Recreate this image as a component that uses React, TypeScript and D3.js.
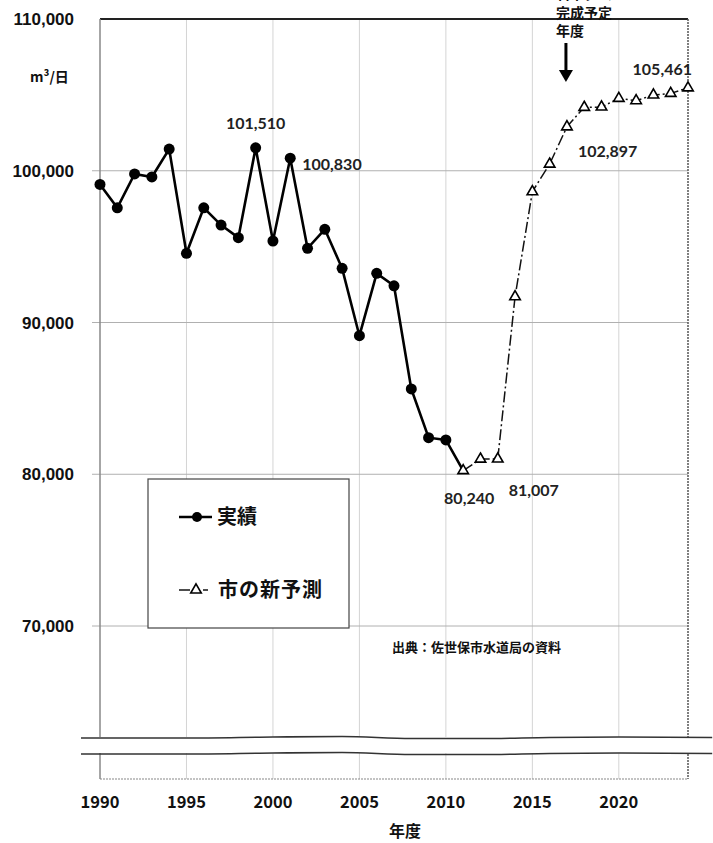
import * as d3 from "d3";

// 実績 (actual daily water supply, m3/day)
const actualYears = [1990, 1991, 1992, 1993, 1994, 1995, 1996, 1997, 1998, 1999, 2000,
  2001, 2002, 2003, 2004, 2005, 2006, 2007, 2008, 2009, 2010, 2011];
const actualValues = [99100, 97560, 99790, 99590, 101430, 94560, 97560, 96420, 95590, 101510, 95370,
  100830, 94890, 96140, 93570, 89130, 93240, 92420, 85620, 82410, 82260, 80240];

// 市の新予測 (city's new forecast)
const forecastYears = [2011, 2012, 2013, 2014, 2015, 2016, 2017, 2018, 2019, 2020, 2021, 2022, 2023, 2024];
const forecastValues = [80240, 81000, 81007, 91700, 98620, 100440, 102897, 104180, 104200, 104770, 104620, 104990, 105100, 105461];

const yTicks = [70000, 80000, 90000, 100000, 110000];
const xTicks = [1990, 1995, 2000, 2005, 2010, 2015, 2020];

const callouts = [
  { year: 1999, value: 101510, text: "101,510", dx: 0, dy: -24, anchor: "middle" },
  { year: 2001, value: 100830, text: "100,830", dx: 12, dy: 6, anchor: "start" },
  { year: 2011, value: 80240, text: "80,240", dx: 6, dy: 28, anchor: "middle" },
  { year: 2013, value: 81007, text: "81,007", dx: 36, dy: 31, anchor: "middle" },
  { year: 2017, value: 102897, text: "102,897", dx: 11, dy: 25, anchor: "start" },
  { year: 2024, value: 105461, text: "105,461", dx: 4, dy: -18, anchor: "end" },
];

const annotationLines = ["石木ダム", "完成予定", "年度"];

const W = 713, H = 843;
const left = 100, right = 688, top = 19, bottom = 779;
const breakTop = 737, breakBottom = 753;

export default function App() {
  const x = d3.scaleLinear().domain([1990, 2024]).range([left, right]);
  const y = d3.scaleLinear().domain([70000, 110000]).range([626, top]);

  const actual = actualYears.map((yr, i) => ({ yr, v: actualValues[i] }));
  const forecast = forecastYears.map((yr, i) => ({ yr, v: forecastValues[i] }));
  const line = d3.line<any>().x(d => x(d.yr)).y(d => y(d.v));
  const tri = d3.symbol().type(d3.symbolTriangle).size(48)();

  // wavy break line
  const waveYears = [1988.9, 1995, 2000, 2004, 2008, 2012, 2016, 2020, 2025.4];
  const waveOff = [1, 1, 0, -0.5, 1.5, 1.5, 0.5, 0, 0.5];
  const wave = (base: number) =>
    d3.line<number>().curve(d3.curveMonotoneX)
      .x((_, i) => x(waveYears[i]))
      .y((d) => base + d)(waveOff);

  const numFont = "Lato, 'Liberation Sans', sans-serif";
  const jpFont = "'Noto Sans CJK JP', sans-serif";

  return (
    <svg width={W} height={H} style={{ position: "absolute", left: 0, top: 0, background: "#fff" }}>
      {/* vertical grid */}
      {xTicks.slice(1).map(t => (
        <line key={t} x1={x(t)} x2={x(t)} y1={top} y2={bottom} stroke="#d4d4d4" strokeWidth={1} />
      ))}
      {/* horizontal grid */}
      {yTicks.slice(0, -1).map(t => (
        <line key={t} x1={left - 8} x2={right} y1={y(t)} y2={y(t)} stroke="#b0b0b0" strokeWidth={1} />
      ))}
      {/* frame */}
      <line x1={left} x2={right} y1={top} y2={top} stroke="#222" strokeWidth={2} />
      <line x1={left} x2={left} y1={top} y2={bottom} stroke="#888" strokeWidth={1.5} />
      <line x1={right} x2={right} y1={top} y2={bottom} stroke="#555" strokeWidth={1.5} strokeDasharray="2,1" />
      <line x1={left} x2={right} y1={bottom} y2={bottom} stroke="#888" strokeWidth={1.2} strokeDasharray="2,1" />

      {/* axis break */}
      <rect x={81} y={breakTop} width={W - 81} height={breakBottom - breakTop} fill="#fff" />
      <path d={wave(breakTop) ?? ""} fill="none" stroke="#333" strokeWidth={1.6} />
      <path d={wave(breakBottom) ?? ""} fill="none" stroke="#333" strokeWidth={1.6} />

      {/* y tick labels */}
      {yTicks.map(t => (
        <text key={t} x={74} y={y(t)} dy="0.36em" textAnchor="end" fontFamily="'Liberation Sans', Arial, sans-serif"
          fontWeight="bold" fontSize={17} fill="#111">{d3.format(",")(t)}</text>
      ))}
      <text x={30} y={82} fontFamily={jpFont} fontWeight="bold" fontSize={14} fill="#111">m³/日</text>

      {/* x tick labels */}
      {xTicks.map(t => (
        <text key={t} x={x(t)} y={808} textAnchor="middle" fontFamily={jpFont}
          fontWeight="bold" fontSize={16.5} fill="#111">{t}</text>
      ))}
      <text x={405} y={837} textAnchor="middle" fontFamily={jpFont} fontWeight="bold" fontSize={16} fill="#111">年度</text>

      {/* forecast */}
      <path d={line(forecast) ?? ""} fill="none" stroke="#111" strokeWidth={1.5} strokeDasharray="11,3,2,3" />
      {/* actual */}
      <path d={line(actual) ?? ""} fill="none" stroke="#000" strokeWidth={2.6} />
      {actual.slice(0, -1).map(d => (
        <circle key={d.yr} cx={x(d.yr)} cy={y(d.v)} r={5.5} fill="#000" />
      ))}
      {forecast.map(d => (
        <path key={d.yr} d={tri} transform={`translate(${x(d.yr)},${y(d.v)})`} fill="#fff" stroke="#000" strokeWidth={1.6} />
      ))}

      {/* data labels */}
      {callouts.map(c => (
        <text key={c.text} x={x(c.year) + c.dx} y={y(c.value) + c.dy} dy="0.35em" textAnchor={c.anchor}
          fontFamily={numFont} fontWeight="bold" fontSize={16} fill="#222">{c.text}</text>
      ))}

      {/* dam annotation (top line cut off by the page edge, as in the source) */}
      <text x={556} y={-1} fontFamily={jpFont} fontWeight="bold" fontSize={14} fill="#111">
        {annotationLines.map((t, i) => (
          <tspan key={t} x={556} dy={i === 0 ? 0 : 18.5}>{t}</tspan>
        ))}
      </text>
      <line x1={x(2017) - 1} x2={x(2017) - 1} y1={43} y2={74} stroke="#000" strokeWidth={3} />
      <path d={`M${x(2017) - 8},${70} L${x(2017) - 1},${82} L${x(2017) + 6},${70} Z`} fill="#000" />

      {/* legend */}
      <rect x={148} y={479} width={201} height={149} fill="#fff" stroke="#444" strokeWidth={1.2} />
      <line x1={179} x2={212} y1={517} y2={517} stroke="#000" strokeWidth={2.4} />
      <circle cx={197} cy={517} r={5} fill="#000" />
      <text x={217} y={517} dy="0.36em" fontFamily={jpFont} fontWeight="bold" fontSize={20} fill="#111">実績</text>
      <line x1={179} x2={190} y1={590} y2={590} stroke="#000" strokeWidth={1.4} />
      <path d={tri} transform="translate(196,590)" fill="#fff" stroke="#000" strokeWidth={1.6} />
      <line x1={203} x2={208} y1={590} y2={590} stroke="#000" strokeWidth={1.4} />
      <text x={218} y={590} dy="0.36em" fontFamily={jpFont} fontWeight="bold" fontSize={20} fill="#111" letterSpacing="1">市の新予測</text>

      <text x={392} y={647} dy="0.36em" fontFamily={jpFont} fontWeight="bold" fontSize={13} fill="#111">出典：佐世保市水道局の資料</text>
    </svg>
  );
}
